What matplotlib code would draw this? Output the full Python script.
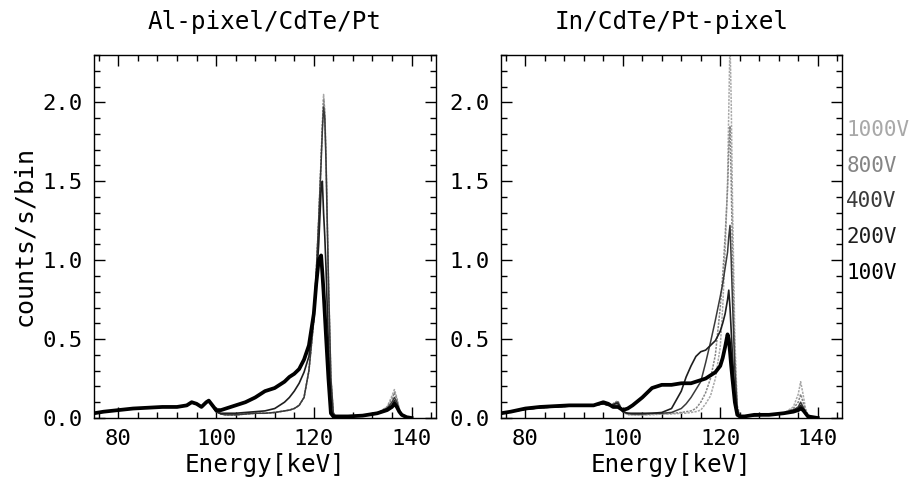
import matplotlib
matplotlib.use("Agg")
import matplotlib.pyplot as plt
from matplotlib.ticker import MultipleLocator, FormatStrFormatter

# energy grid shared by every spectrum [keV]
ENERGY = [75, 77, 80, 83, 86, 89, 92, 94, 95, 96, 97, 98, 98.5, 99,
          100, 101, 102, 104, 106, 108, 110, 112, 113, 114, 115, 116, 117, 118,
          119, 120, 120.5, 121, 121.5, 121.75, 122, 122.25, 122.5, 123, 123.5,
          124, 124.5, 125, 127, 130, 133, 135, 136, 136.5, 137, 137.5, 138, 139, 140]

VOLTAGES = ["1000V", "800V", "400V", "200V", "100V"]

# Al-pixel/CdTe/Pt spectra (counts/s/bin)
AL_100V = [0.03, 0.04, 0.05, 0.06, 0.065, 0.07, 0.07, 0.08, 0.10, 0.09, 0.07, 0.10, 0.11, 0.09,
           0.05, 0.05, 0.06, 0.08, 0.10, 0.13, 0.17, 0.19, 0.21, 0.23, 0.26, 0.28, 0.31, 0.37,
           0.46, 0.66, 0.85, 1.00, 1.03, 0.92, 0.80, 0.66, 0.52, 0.25, 0.03,
           0.01, 0.01, 0.01, 0.01, 0.015, 0.03, 0.05, 0.07, 0.09, 0.07, 0.04, 0.02, 0.005, 0.0]
AL_200V = [0.03, 0.04, 0.05, 0.06, 0.065, 0.07, 0.07, 0.08, 0.095, 0.09, 0.07, 0.10, 0.11, 0.09,
           0.04, 0.03, 0.03, 0.03, 0.035, 0.04, 0.045, 0.06, 0.08, 0.10, 0.13, 0.17, 0.22, 0.29,
           0.39, 0.65, 0.85, 1.10, 1.45, 1.50, 1.30, 1.15, 0.95, 0.45, 0.05,
           0.01, 0.01, 0.01, 0.01, 0.015, 0.03, 0.06, 0.08, 0.11, 0.08, 0.04, 0.02, 0.005, 0.0]
AL_400V = [0.03, 0.04, 0.05, 0.06, 0.065, 0.07, 0.07, 0.08, 0.095, 0.09, 0.07, 0.10, 0.11, 0.09,
           0.04, 0.025, 0.02, 0.02, 0.025, 0.03, 0.03, 0.035, 0.04, 0.045, 0.05, 0.06, 0.08, 0.13,
           0.30, 0.62, 0.92, 1.25, 1.62, 1.82, 1.97, 1.90, 1.62, 0.86, 0.25,
           0.03, 0.01, 0.01, 0.01, 0.015, 0.03, 0.06, 0.10, 0.13, 0.10, 0.05, 0.02, 0.005, 0.0]
AL_800V = [0.03, 0.04, 0.05, 0.06, 0.065, 0.07, 0.07, 0.08, 0.095, 0.09, 0.07, 0.10, 0.11, 0.09,
           0.04, 0.025, 0.02, 0.02, 0.025, 0.03, 0.03, 0.035, 0.04, 0.045, 0.05, 0.06, 0.08, 0.13,
           0.30, 0.62, 0.92, 1.25, 1.65, 1.85, 2.02, 1.93, 1.65, 0.88, 0.25,
           0.03, 0.01, 0.01, 0.01, 0.015, 0.03, 0.07, 0.12, 0.16, 0.12, 0.05, 0.02, 0.005, 0.0]
AL_1000V = [0.03, 0.04, 0.05, 0.06, 0.065, 0.07, 0.07, 0.08, 0.095, 0.09, 0.07, 0.10, 0.11, 0.09,
            0.04, 0.025, 0.02, 0.02, 0.025, 0.03, 0.03, 0.035, 0.04, 0.045, 0.05, 0.06, 0.08, 0.13,
            0.30, 0.62, 0.92, 1.25, 1.65, 1.85, 2.05, 1.95, 1.66, 0.88, 0.26,
            0.03, 0.01, 0.01, 0.01, 0.015, 0.03, 0.07, 0.14, 0.18, 0.13, 0.06, 0.02, 0.005, 0.0]

# In/CdTe/Pt-pixel spectra (counts/s/bin)
IN_100V = [0.03, 0.04, 0.06, 0.07, 0.075, 0.08, 0.08, 0.08, 0.09, 0.10, 0.09, 0.07, 0.07, 0.07,
           0.05, 0.06, 0.08, 0.13, 0.19, 0.21, 0.21, 0.22, 0.22, 0.22, 0.23, 0.24, 0.25, 0.27,
           0.29, 0.33, 0.38, 0.45, 0.53, 0.50, 0.42, 0.33, 0.25, 0.10, 0.02,
           0.01, 0.01, 0.01, 0.02, 0.02, 0.03, 0.04, 0.05, 0.06, 0.05, 0.03, 0.01, 0.005, 0.0]
IN_200V = [0.03, 0.04, 0.055, 0.065, 0.07, 0.075, 0.08, 0.08, 0.085, 0.09, 0.08, 0.08, 0.09, 0.09,
           0.04, 0.03, 0.03, 0.03, 0.03, 0.035, 0.06, 0.17, 0.26, 0.33, 0.39, 0.42, 0.43, 0.46,
           0.49, 0.55, 0.60, 0.66, 0.75, 0.81, 0.70, 0.55, 0.40, 0.15, 0.03,
           0.01, 0.01, 0.01, 0.015, 0.02, 0.03, 0.05, 0.06, 0.08, 0.06, 0.03, 0.01, 0.005, 0.0]
IN_400V = [0.03, 0.04, 0.055, 0.065, 0.07, 0.075, 0.08, 0.08, 0.085, 0.09, 0.08, 0.085, 0.095, 0.10,
           0.04, 0.03, 0.025, 0.025, 0.03, 0.03, 0.035, 0.06, 0.09, 0.13, 0.18, 0.23, 0.35, 0.48,
           0.62, 0.77, 0.85, 0.95, 1.05, 1.15, 1.22, 1.00, 0.75, 0.30, 0.06,
           0.01, 0.01, 0.01, 0.015, 0.02, 0.03, 0.05, 0.07, 0.10, 0.07, 0.04, 0.01, 0.005, 0.0]
IN_800V = [0.03, 0.04, 0.055, 0.065, 0.07, 0.075, 0.08, 0.08, 0.085, 0.09, 0.08, 0.09, 0.10, 0.10,
           0.04, 0.025, 0.02, 0.02, 0.025, 0.025, 0.03, 0.035, 0.04, 0.045, 0.06, 0.10, 0.16, 0.25,
           0.40, 0.70, 0.90, 1.15, 1.45, 1.70, 1.85, 1.50, 1.05, 0.40, 0.06,
           0.01, 0.01, 0.01, 0.015, 0.02, 0.03, 0.06, 0.10, 0.15, 0.10, 0.05, 0.02, 0.005, 0.0]
IN_1000V = [0.03, 0.04, 0.055, 0.065, 0.07, 0.075, 0.08, 0.08, 0.085, 0.09, 0.08, 0.09, 0.10, 0.11,
            0.04, 0.02, 0.02, 0.02, 0.02, 0.025, 0.025, 0.03, 0.03, 0.035, 0.04, 0.05, 0.09, 0.14,
            0.25, 0.45, 0.70, 1.05, 1.50, 1.95, 2.40, 2.00, 1.40, 0.50, 0.08,
            0.02, 0.01, 0.01, 0.015, 0.02, 0.03, 0.07, 0.15, 0.23, 0.15, 0.06, 0.02, 0.005, 0.0]

COLORS = {"1000V": "#a8a8a8", "800V": "#858585", "400V": "#3a3a3a", "200V": "#1e1e1e", "100V": "#000000"}
WIDTHS = {"1000V": 1.1, "800V": 1.1, "400V": 1.1, "200V": 1.2, "100V": 2.7}
STYLES = {"1000V": (0, (1.5, 0.8)), "800V": (0, (1.5, 0.8)), "400V": "-", "200V": "-", "100V": "-"}

FONT = "DejaVu Sans Mono"
plt.rcParams["font.family"] = FONT


def style_axes(ax):
    ax.set_xlim(75, 145)
    ax.set_ylim(0, 2.3)
    ax.xaxis.set_major_locator(MultipleLocator(20))
    ax.xaxis.set_minor_locator(MultipleLocator(4))
    ax.yaxis.set_major_locator(MultipleLocator(0.5))
    ax.yaxis.set_minor_locator(MultipleLocator(0.1))
    ax.yaxis.set_major_formatter(FormatStrFormatter("%.1f"))
    ax.tick_params(which="both", direction="in", top=True, right=True, width=1)
    ax.tick_params(which="major", length=8, labelsize=16, pad=8)
    ax.tick_params(which="minor", length=4)
    for sp in ax.spines.values():
        sp.set_linewidth(1)
    ax.set_xlabel("Energy[keV]", fontsize=17.5, labelpad=3)


fig = plt.figure(figsize=(9.23, 4.87), dpi=100)
ax1 = fig.add_axes([0.1018, 0.1417, 0.3705, 0.7454])
ax2 = fig.add_axes([0.5428, 0.1417, 0.3695, 0.7454])

al = {"1000V": AL_1000V, "800V": AL_800V, "400V": AL_400V, "200V": AL_200V, "100V": AL_100V}
ind = {"1000V": IN_1000V, "800V": IN_800V, "400V": IN_400V, "200V": IN_200V, "100V": IN_100V}

for v in VOLTAGES:
    ax1.plot(ENERGY, al[v], color=COLORS[v], lw=WIDTHS[v], ls=STYLES[v])
    ax2.plot(ENERGY, ind[v], color=COLORS[v], lw=WIDTHS[v], ls=STYLES[v])

for ax, title in ((ax1, "Al-pixel/CdTe/Pt"), (ax2, "In/CdTe/Pt-pixel")):
    style_axes(ax)
    ax.set_title(title, fontsize=17.5, pad=19)

ax1.set_ylabel("counts/s/bin", fontsize=18)
ax1.yaxis.set_label_coords(-0.17, 0.5)

# voltage labels at the right edge
for i, v in enumerate(VOLTAGES):
    fig.text(0.917, 1 - (130 + 35.7 * i) / 487, v, color=COLORS[v],
             fontsize=15, va="center", ha="left")

fig.savefig("out.png", dpi=100)
